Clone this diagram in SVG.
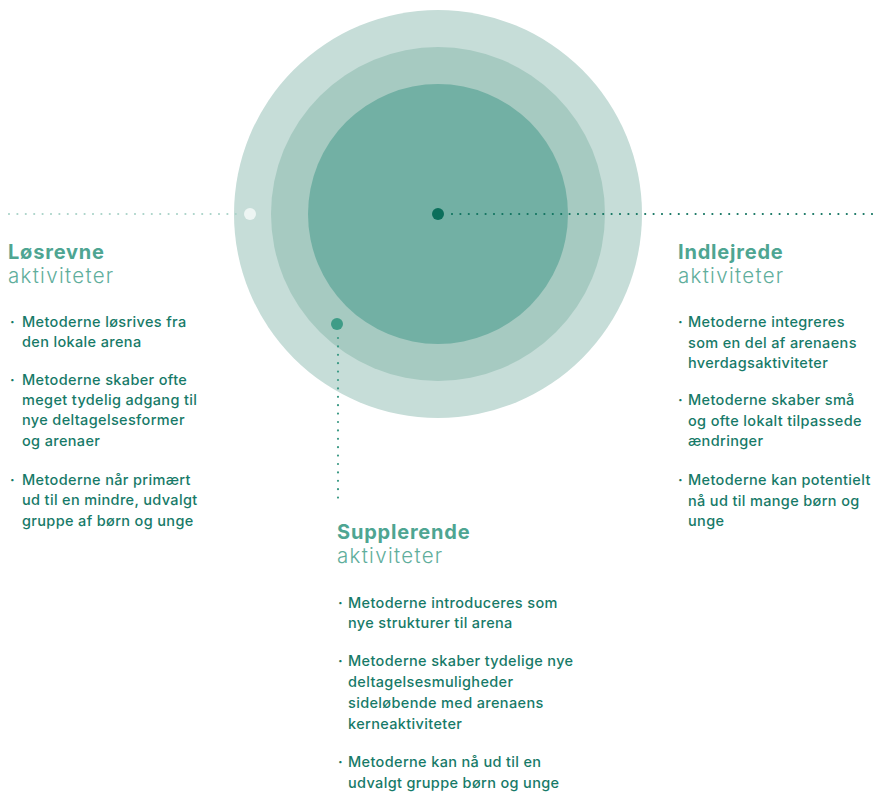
<svg xmlns="http://www.w3.org/2000/svg" width="880" height="795" viewBox="0 0 880 795">
<style>
.h{font-family:Inter,"Noto Sans","Liberation Sans",sans-serif;font-size:20px;font-weight:700;fill:#4ea592;letter-spacing:0.8px}
.s{font-family:Inter,"Noto Sans","Liberation Sans",sans-serif;font-size:20.5px;font-weight:300;fill:#5fae9c;letter-spacing:1.3px}
.b{font-family:Inter,"Noto Sans","Liberation Sans",sans-serif;font-size:14.5px;font-weight:500;fill:#177a68;letter-spacing:0.35px}
.dot{font-family:Inter,"Noto Sans","Liberation Sans",sans-serif;font-size:14px;font-weight:700;fill:#177a68}
.dl{fill:none;stroke-width:2.2;stroke-linecap:round;stroke-dasharray:0 8.4}
</style>
<rect width="880" height="795" fill="#ffffff"/>
<g id="circles">
<circle cx="438" cy="214" r="204" fill="#c6ddd8"/>
<circle cx="438" cy="214" r="167" fill="#a6cac1"/>
<circle cx="438" cy="214" r="130" fill="#72b0a4"/>
</g>
<g id="connectors">
<line class="dl" x1="9" y1="214" x2="240" y2="214" stroke="#a9d3c8"/>
<circle cx="250" cy="214" r="6" fill="#edf5f3"/>
<line class="dl" x1="452" y1="214" x2="878" y2="214" stroke="#10735f"/>
<circle cx="438" cy="214" r="6" fill="#0b6f5b"/>
<line class="dl" x1="338" y1="338" x2="338" y2="500" stroke="#3d9a86"/>
<circle cx="337" cy="324" r="6" fill="#3f9c87"/>
</g>
<g id="losrevne">
<text class="h" x="8" y="259">Løsrevne</text>
<text class="s" x="8" y="283">aktiviteter</text>
<text class="dot" x="10" y="327">·</text>
<text class="b" x="22" y="327">Metoderne løsrives fra</text>
<text class="b" x="22" y="347">den lokale arena</text>
<text class="dot" x="10" y="385">·</text>
<text class="b" x="22" y="385">Metoderne skaber ofte</text>
<text class="b" x="22" y="405">meget tydelig adgang til</text>
<text class="b" x="22" y="425">nye deltagelsesformer</text>
<text class="b" x="22" y="446">og arenaer</text>
<text class="dot" x="10" y="485">·</text>
<text class="b" x="22" y="485">Metoderne når primært</text>
<text class="b" x="22" y="505">ud til en mindre, udvalgt</text>
<text class="b" x="22" y="526">gruppe af børn og unge</text>
</g>
<g id="indlejrede">
<text class="h" x="678" y="259">Indlejrede</text>
<text class="s" x="678" y="283">aktiviteter</text>
<text class="dot" x="678" y="327">·</text>
<text class="b" x="688" y="327">Metoderne integreres</text>
<text class="b" x="688" y="348">som en del af arenaens</text>
<text class="b" x="688" y="368">hverdagsaktiviteter</text>
<text class="dot" x="678" y="405">·</text>
<text class="b" x="688" y="405">Metoderne skaber små</text>
<text class="b" x="688" y="426">og ofte lokalt tilpassede</text>
<text class="b" x="688" y="446">ændringer</text>
<text class="dot" x="678" y="485">·</text>
<text class="b" x="688" y="485">Metoderne kan potentielt</text>
<text class="b" x="688" y="506">nå ud til mange børn og</text>
<text class="b" x="688" y="526">unge</text>
</g>
<g id="supplerende">
<text class="h" x="337" y="539">Supplerende</text>
<text class="s" x="337" y="563">aktiviteter</text>
<text class="dot" x="338" y="608">·</text>
<text class="b" x="348" y="608">Metoderne introduceres som</text>
<text class="b" x="348" y="628">nye strukturer til arena</text>
<text class="dot" x="338" y="666">·</text>
<text class="b" x="348" y="666">Metoderne skaber tydelige nye</text>
<text class="b" x="348" y="687">deltagelsesmuligheder</text>
<text class="b" x="348" y="708">sideløbende med arenaens</text>
<text class="b" x="348" y="729">kerneaktiviteter</text>
<text class="dot" x="338" y="767">·</text>
<text class="b" x="348" y="767">Metoderne kan nå ud til en</text>
<text class="b" x="348" y="788">udvalgt gruppe børn og unge</text>
</g>
</svg>
